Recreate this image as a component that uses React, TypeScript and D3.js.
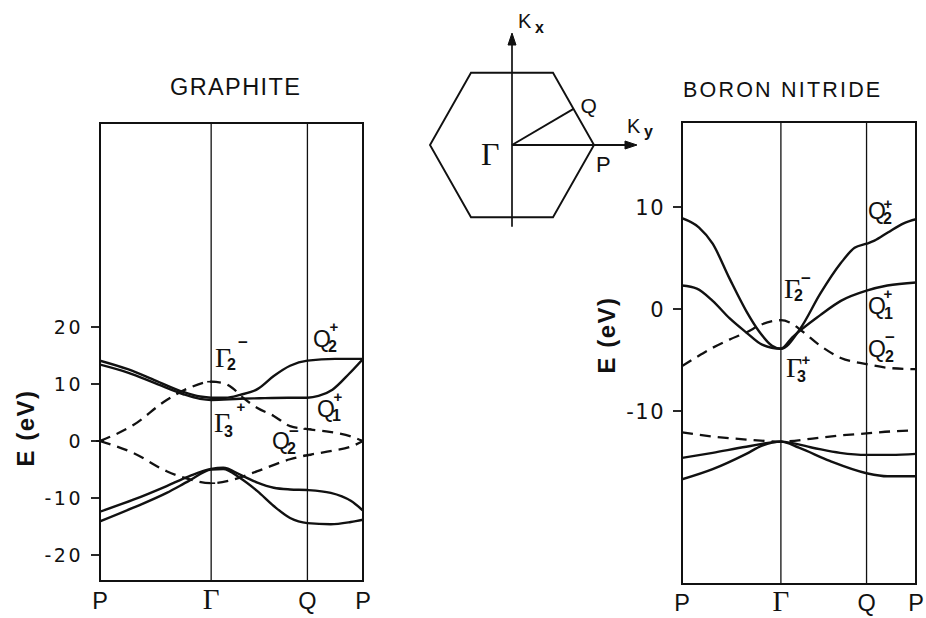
import React from "react";
import * as d3 from "d3";

type Pt = [number, number];

// k runs along P → Γ → Q → P, with |ΓP| = 1, |ΓQ| = cos 30°, |QP| = 1/2
const pathLabels = ["P", "Γ", "Q", "P"];
const pathK = [0, 1, 1.866, 2.366];

const graphiteTicks = [20, 10, 0, -10, -20];
const bnTicks = [10, 0, -10];

// ---- Graphite bands: [k, E (eV)] ----
const graphiteSigmaUpperA: Pt[] = [
  [0, 14.1], [0.25, 12.6], [0.5, 10.6], [0.75, 8.6], [0.9, 7.8], [1, 7.6],
  [1.13, 7.6], [1.26, 8.1], [1.416, 9.1], [1.563, 11.4], [1.71, 13.2], [1.866, 14.1],
  [2.116, 14.4], [2.366, 14.4],
];
const graphiteSigmaUpperB: Pt[] = [
  [0, 13.4], [0.25, 12.0], [0.5, 10.1], [0.75, 8.2], [0.9, 7.4], [1, 7.2],
  [1.26, 7.4], [1.433, 7.5], [1.693, 7.6], [1.866, 7.6], [1.966, 7.9], [2.091, 9.0],
  [2.241, 11.8], [2.366, 14.4],
];
const graphitePiStar: Pt[] = [
  [0, 0], [0.3, 2.8], [0.6, 7.2], [0.8, 9.3], [1, 10.4], [1.104, 10.2], [1.191, 9.3],
  [1.286, 7.6], [1.416, 5.8], [1.563, 4.4], [1.71, 2.6], [1.866, 2.1], [2.066, 1.6],
  [2.256, 0.8], [2.366, 0],
];
const graphitePi: Pt[] = [
  [0, 0], [0.3, -2.1], [0.6, -5.3], [0.8, -6.7], [1, -7.4], [1.173, -6.9], [1.416, -5.3],
  [1.71, -3.2], [1.866, -2.5], [2.091, -1.7], [2.256, -1.0], [2.366, 0],
];
const graphiteSigmaLowerA: Pt[] = [
  [0, -12.4], [0.3, -10.3], [0.6, -7.9], [0.8, -6.2], [1, -4.9], [1.108, -4.7],
  [1.26, -5.9], [1.416, -7.3], [1.563, -8.2], [1.71, -8.5], [1.866, -8.6], [2.076, -9.1],
  [2.256, -10.5], [2.366, -12.2],
];
const graphiteSigmaLowerB: Pt[] = [
  [0, -14.1], [0.3, -11.7], [0.6, -9.1], [0.8, -7.0], [1, -5.0], [1.108, -4.9],
  [1.26, -6.5], [1.416, -8.8], [1.563, -11.4], [1.71, -13.5], [1.866, -14.4], [2.076, -14.6],
  [2.256, -14.2], [2.366, -13.8],
];

// ---- Boron nitride bands: [k, E (eV)] ----
const bnSigmaUpperA: Pt[] = [
  [0, 8.9], [0.17, 8.0], [0.31, 6.4], [0.48, 3.0], [0.65, -0.2], [0.78, -2.2], [0.91, -3.6],
  [1, -3.9], [1.191, -2.0], [1.398, 1.5], [1.606, 4.5], [1.745, 6.0], [1.866, 6.4],
  [1.946, 6.7], [2.081, 7.5], [2.241, 8.4], [2.366, 8.8],
];
const bnSigmaUpperB: Pt[] = [
  [0, 2.3], [0.15, 2.0], [0.31, 0.8], [0.48, -0.9], [0.65, -2.3], [0.81, -3.5], [1, -3.9],
  [1.113, -2.8], [1.398, -0.6], [1.606, 0.8], [1.866, 1.8], [2.076, 2.3], [2.366, 2.6],
];
const bnPiStar: Pt[] = [
  [0, -5.6], [0.15, -4.7], [0.31, -3.8], [0.48, -3.0], [0.65, -2.3], [0.81, -1.5], [1, -1.1],
  [1.104, -1.4], [1.217, -2.2], [1.398, -3.6], [1.606, -4.8], [1.866, -5.4], [2.116, -5.8],
  [2.366, -5.9],
];
const bnPi: Pt[] = [
  [0, -12.1], [0.31, -12.5], [0.65, -12.8], [1, -13.0], [1.32, -12.7], [1.598, -12.4],
  [1.866, -12.2], [2.116, -12.0], [2.366, -11.9],
];
const bnSigmaLowerA: Pt[] = [
  [0, -14.6], [0.31, -14.1], [0.65, -13.5], [1, -13.0], [1.32, -13.6], [1.598, -14.1],
  [1.866, -14.3], [2.116, -14.3], [2.366, -14.2],
];
const bnSigmaLowerB: Pt[] = [
  [0, -16.7], [0.31, -15.7], [0.65, -14.2], [0.81, -13.4], [1, -13.0], [1.182, -13.6],
  [1.494, -14.9], [1.866, -16.1], [2.076, -16.4], [2.366, -16.4],
];

// Brillouin zone corners in (ky, kx), |ΓP| = 1
const zoneCorners: Pt[] = [
  [1, 0], [0.5, 0.866], [-0.5, 0.866], [-1, 0], [-0.5, -0.866], [0.5, -0.866],
];
const zoneQ: Pt = [0.75, 0.433];
const zoneP: Pt = [1, 0];

const SANS = "'Liberation Sans', Arial, sans-serif";
const SERIF = "'Liberation Serif', 'Times New Roman', serif";
const NUM = "'DejaVu Sans', sans-serif";

type Label = {
  base: string; sub: string; sup: string;
  x: number; y: number; subX: number; subY: number; supX: number; supY: number;
};

const graphiteLabels: Label[] = [
  { base: "Γ", sub: "2", sup: "−", x: 215, y: 367, subX: 227, subY: 370, supX: 243, supY: 342 },
  { base: "Γ", sub: "3", sup: "+", x: 214, y: 432, subX: 224, subY: 437, supX: 241, supY: 406 },
  { base: "Q", sub: "2", sup: "+", x: 313, y: 347, subX: 328, subY: 352, supX: 334, supY: 326 },
  { base: "Q", sub: "1", sup: "+", x: 317, y: 417, subX: 332, subY: 421, supX: 338, supY: 396 },
  { base: "Q", sub: "2", sup: "−", x: 272, y: 449, subX: 287, subY: 454, supX: 294, supY: 431 },
];
const bnLabels: Label[] = [
  { base: "Q", sub: "2", sup: "+", x: 868, y: 219, subX: 883, subY: 224, supX: 888, supY: 203 },
  { base: "Q", sub: "1", sup: "+", x: 868, y: 314, subX: 884, subY: 319, supX: 888, supY: 293 },
  { base: "Q", sub: "2", sup: "−", x: 868, y: 357, subX: 885, subY: 362, supX: 890, supY: 337 },
  { base: "Γ", sub: "2", sup: "−", x: 784, y: 298, subX: 794, subY: 301, supX: 806, supY: 278 },
  { base: "Γ", sub: "3", sup: "+", x: 786, y: 377, subX: 797, subY: 382, supX: 806, supY: 359 },
];

function SymLabel({ l }: { l: Label }) {
  const isGamma = l.base === "Γ";
  return (
    <g fill="#111">
      <text x={l.x} y={l.y} fontFamily={isGamma ? SERIF : SANS} fontSize={isGamma ? 28 : 23}>
        {l.base}
      </text>
      <text x={l.subX} y={l.subY} fontFamily={SANS} fontSize={16} fontWeight={700}>
        {l.sub}
      </text>
      <text
        x={l.supX}
        y={l.supY}
        fontFamily={SANS}
        fontSize={l.sup === "+" ? 15 : 17}
        fontWeight={700}
        textAnchor="middle"
        dominantBaseline="central"
      >
        {l.sup}
      </text>
    </g>
  );
}

type PanelProps = {
  id: string;
  title: string;
  titleX: number;
  titleY: number;
  titleSize: number;
  titleSpacing: number;
  left: number;
  right: number;
  top: number;
  bottom: number;
  yDomain: [number, number];
  yRange: [number, number];
  ticks: number[];
  tickSize: number;
  tickSpacing: number;
  solid: Pt[][];
  dashed: Pt[][];
  labels: Label[];
  axisTitleX: number;
  axisTitleY: number;
  bottomLabelY: number;
  markDashed: boolean;
};

function Panel(p: PanelProps) {
  const x = d3.scaleLinear().domain([pathK[0], pathK[3]]).range([p.left, p.right]);
  const y = d3.scaleLinear().domain(p.yDomain).range(p.yRange);
  const line = d3
    .line<Pt>()
    .x((d) => x(d[0]))
    .y((d) => y(d[1]))
    .curve(d3.curveMonotoneX);

  const marks: Pt[] = [];
  if (p.markDashed) {
    p.dashed.forEach((band) =>
      band.forEach((d) => {
        if (pathK.slice(0, 3).some((k) => Math.abs(k - d[0]) < 1e-6)) marks.push(d);
      })
    );
  }

  return (
    <g>
      <defs>
        <clipPath id={p.id}>
          <rect x={p.left} y={p.top} width={p.right - p.left} height={p.bottom - p.top} />
        </clipPath>
      </defs>
      <text
        x={p.titleX}
        y={p.titleY}
        fontFamily={SANS}
        fontSize={p.titleSize}
        letterSpacing={p.titleSpacing}
        fill="#111"
      >
        {p.title}
      </text>

      {/* symmetry-point verticals */}
      {pathK.slice(1, 3).map((k, i) => (
        <line key={i} x1={x(k)} x2={x(k)} y1={p.top} y2={p.bottom} stroke="#111" strokeWidth={1.3} />
      ))}

      <g clipPath={`url(#${p.id})`} fill="none" stroke="#111">
        {p.dashed.map((b, i) => (
          <path key={"d" + i} d={line(b) || ""} strokeWidth={2.3} strokeDasharray="11 7" />
        ))}
        {p.solid.map((b, i) => (
          <path key={"s" + i} d={line(b) || ""} strokeWidth={2.4} strokeLinejoin="round" />
        ))}
      </g>
      {marks.map((d, i) => (
        <line
          key={"m" + i}
          x1={x(d[0]) - 4}
          x2={x(d[0]) + 4}
          y1={y(d[1])}
          y2={y(d[1])}
          stroke="#111"
          strokeWidth={1.6}
        />
      ))}

      {/* frame */}
      <rect
        x={p.left}
        y={p.top}
        width={p.right - p.left}
        height={p.bottom - p.top}
        fill="none"
        stroke="#111"
        strokeWidth={2}
      />

      {/* energy ticks */}
      {p.ticks.map((t) => (
        <g key={t}>
          <line x1={p.left - 9} x2={p.left} y1={y(t)} y2={y(t)} stroke="#111" strokeWidth={1.8} />
          <text
            x={p.left - 17}
            y={y(t) + p.tickSize * 0.36}
            textAnchor="end"
            fontFamily={NUM}
            fontSize={p.tickSize}
            letterSpacing={p.tickSpacing}
            fill="#111"
          >
            {t < 0 ? "-" + Math.abs(t) : String(t)}
          </text>
        </g>
      ))}

      <text
        transform={`translate(${p.axisTitleX},${p.axisTitleY}) rotate(-90)`}
        textAnchor="middle"
        fontFamily={SANS}
        fontWeight={700}
        fontSize={24}
        letterSpacing={1.5}
        fill="#111"
      >
        E (eV)
      </text>

      {/* path labels under the axis */}
      {pathK.map((k, i) => (
        <text
          key={i}
          x={x(k)}
          y={p.bottomLabelY}
          textAnchor="middle"
          fontFamily={pathLabels[i] === "Γ" ? SERIF : SANS}
          fontSize={pathLabels[i] === "Γ" ? 29 : 23.5}
          fill="#111"
        >
          {pathLabels[i]}
        </text>
      ))}

      {p.labels.map((l, i) => (
        <SymLabel key={i} l={l} />
      ))}
    </g>
  );
}

function Zone() {
  const kx = d3.scaleLinear().domain([-1, 1]).range([430, 594]);
  const ky = d3.scaleLinear().domain([-1, 1]).range([228.5, 61.5]);
  const hex = d3.line<Pt>().x((d) => kx(d[0])).y((d) => ky(d[1]));
  const cx = kx(0);
  const cy = ky(0);
  const topTip = 33;
  const rightTip = 637;
  return (
    <g stroke="#111" fill="none">
      <path d={(hex(zoneCorners) || "") + "Z"} strokeWidth={1.9} strokeLinejoin="miter" />
      <line x1={cx} x2={cx} y1={ky(-0.98)} y2={topTip + 10} strokeWidth={1.7} />
      <path d={`M${cx},${topTip} L${cx - 4},${topTip + 12} L${cx + 4},${topTip + 12} Z`} fill="#111" />
      <line x1={cx} x2={rightTip - 10} y1={cy} y2={cy} strokeWidth={1.9} />
      <path d={`M${rightTip},${cy} L${rightTip - 12},${cy - 4} L${rightTip - 12},${cy + 4} Z`} fill="#111" />
      <line x1={cx} y1={cy} x2={kx(zoneQ[0])} y2={ky(zoneQ[1])} strokeWidth={1.9} />
      <g stroke="none" fill="#111">
        <text x={518} y={28} fontFamily={SANS} fontSize={20}>K</text>
        <text x={535} y={33} fontFamily={SANS} fontSize={16} fontWeight={700}>x</text>
        <text x={627} y={133} fontFamily={SANS} fontSize={20}>K</text>
        <text x={644} y={137} fontFamily={SANS} fontSize={16} fontWeight={700}>y</text>
        <text x={kx(zoneQ[0]) + 7} y={ky(zoneQ[1]) + 4} fontFamily={SANS} fontSize={21}>Q</text>
        <text x={cx - 31} y={cy + 20} fontFamily={SERIF} fontSize={32}>Γ</text>
        <text x={kx(zoneP[0]) + 2} y={ky(zoneP[1]) + 27} fontFamily={SANS} fontSize={22}>P</text>
      </g>
    </g>
  );
}

export default function App() {
  return (
    <svg
      width={926}
      height={618}
      viewBox="0 0 926 618"
      style={{ position: "absolute", left: 0, top: 0, background: "#fff" }}
    >
      <rect width={926} height={618} fill="#fff" />
      <Panel
        id="clip-graphite"
        title="GRAPHITE"
        titleX={170}
        titleY={95}
        titleSize={23.5}
        titleSpacing={1.4}
        left={100}
        right={363}
        top={123}
        bottom={581}
        yDomain={[-20, 20]}
        yRange={[555, 327]}
        ticks={graphiteTicks}
        tickSize={19}
        tickSpacing={2.5}
        solid={[graphiteSigmaUpperA, graphiteSigmaUpperB, graphiteSigmaLowerA, graphiteSigmaLowerB]}
        dashed={[graphitePiStar, graphitePi]}
        labels={graphiteLabels}
        axisTitleX={34}
        axisTitleY={428}
        bottomLabelY={609}
        markDashed={true}
      />
      <Panel
        id="clip-bn"
        title="BORON NITRIDE"
        titleX={683}
        titleY={97}
        titleSize={21.5}
        titleSpacing={2.2}
        left={682}
        right={916}
        top={122}
        bottom={584}
        yDomain={[-10, 10]}
        yRange={[411, 207]}
        ticks={bnTicks}
        tickSize={21}
        tickSpacing={1.5}
        solid={[bnSigmaUpperA, bnSigmaUpperB, bnSigmaLowerA, bnSigmaLowerB]}
        dashed={[bnPiStar, bnPi]}
        labels={bnLabels}
        axisTitleX={615}
        axisTitleY={335}
        bottomLabelY={611}
        markDashed={false}
      />
      <Zone />
    </svg>
  );
}
